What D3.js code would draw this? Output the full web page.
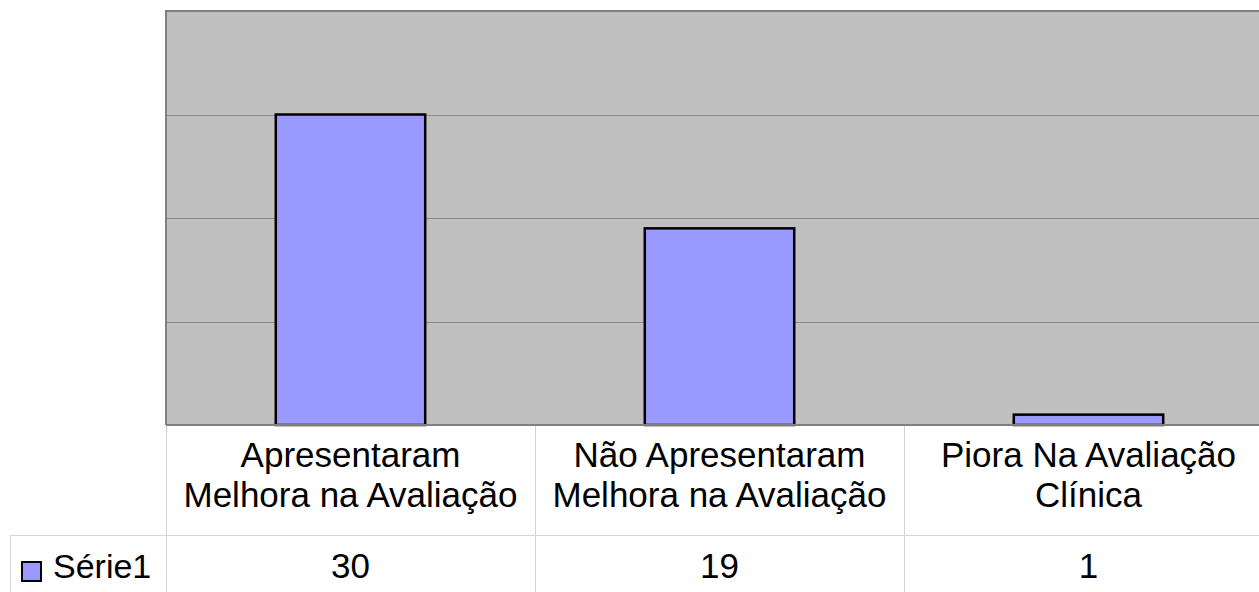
<!DOCTYPE html>
<html>
<head>
<meta charset="utf-8">
<script src="https://cdn.jsdelivr.net/npm/d3@7"></script>
<style>
  body { margin: 0; background: #fff; }
  text { font-family: "Liberation Sans", Arial, sans-serif; }
</style>
</head>
<body>
<div id="chart"></div>
<script>
// Chart data
var categories = [
    ["Apresentaram", "Melhora na Avaliação"],
    ["Não Apresentaram", "Melhora na Avaliação"],
    ["Piora Na Avaliação", "Clínica"]
];
var seriesName = "Série1";
var values = [30, 19, 1];
var gridValues = [10, 20, 30];

var width = 1259;
var height = 592;

var plotLeft = 166, plotRight = 1273, plotTop = 11, plotBottom = 425;
var rowHeight = 110;
var fontSize = 35;

var svg = d3.select("#chart")
    .append("svg")
    .attr("width", width)
    .attr("height", height);

var x = d3.scaleBand()
    .domain(d3.range(categories.length))
    .range([plotLeft, plotRight])
    .paddingInner(0.595)
    .paddingOuter(0.2975);

var y = d3.scaleLinear()
    .domain([0, 40])
    .range([plotBottom, plotTop]);

// plot background
svg.append("rect")
    .attr("x", plotLeft)
    .attr("y", plotTop)
    .attr("width", plotRight - plotLeft)
    .attr("height", plotBottom - plotTop)
    .style("fill", "#c0c0c0");

// gridlines
svg.selectAll("line.grid")
    .data(gridValues)
    .enter()
    .append("line")
    .attr("class", "grid")
    .attr("x1", plotLeft)
    .attr("x2", plotRight)
    .attr("y1", function(d) { return Math.round(y(d)) + 0.5; })
    .attr("y2", function(d) { return Math.round(y(d)) + 0.5; })
    .style("stroke", "#8a8a8a")
    .style("stroke-width", 1);

// border (top + left)
svg.append("path")
    .attr("d", "M" + plotLeft + "," + plotBottom + "V" + plotTop + "H" + plotRight)
    .style("fill", "none")
    .style("stroke", "#808080")
    .style("stroke-width", 2);

// bars
svg.selectAll("rect.bar")
    .data(values)
    .enter()
    .append("rect")
    .attr("class", "bar")
    .attr("x", function(d, i) { return x(i); })
    .attr("y", function(d) { return y(d); })
    .attr("width", x.bandwidth())
    .attr("height", function(d) { return plotBottom - y(d); })
    .style("fill", "#9999ff")
    .style("stroke", "#000")
    .style("stroke-width", 2.5);

// bottom axis line
svg.append("line")
    .attr("x1", plotLeft)
    .attr("x2", plotRight)
    .attr("y1", plotBottom)
    .attr("y2", plotBottom)
    .style("stroke", "#808080")
    .style("stroke-width", 2);

// data table
var step = x.step();
var colEdges = d3.range(categories.length + 1).map(function(i) { return plotLeft + i * step; });
var tableColor = "#d4d4d4";

svg.selectAll("line.vcol")
    .data(colEdges)
    .enter()
    .append("line")
    .attr("class", "vcol")
    .attr("x1", function(d) { return Math.round(d) + 0.5; })
    .attr("x2", function(d) { return Math.round(d) + 0.5; })
    .attr("y1", plotBottom + 1)
    .attr("y2", plotBottom + 2 * rowHeight)
    .style("stroke", tableColor);

svg.append("line")
    .attr("x1", 10)
    .attr("x2", plotRight)
    .attr("y1", plotBottom + rowHeight + 0.5)
    .attr("y2", plotBottom + rowHeight + 0.5)
    .style("stroke", tableColor);

svg.append("line")
    .attr("x1", 10.5)
    .attr("x2", 10.5)
    .attr("y1", plotBottom + rowHeight)
    .attr("y2", plotBottom + 2 * rowHeight)
    .style("stroke", tableColor);

// category labels
var catText = svg.selectAll("text.cat")
    .data(categories)
    .enter()
    .append("text")
    .attr("class", "cat")
    .attr("text-anchor", "middle")
    .style("font-size", fontSize + "px")
    .style("fill", "#000");

catText.selectAll("tspan")
    .data(function(d, i) { return d.map(function(t) { return { t: t, i: i }; }); })
    .enter()
    .append("tspan")
    .attr("x", function(d) { return x(d.i) + x.bandwidth() / 2; })
    .attr("y", function(d, j) { return 467 + j * 40; })
    .text(function(d) { return d.t; });

// value labels
svg.selectAll("text.val")
    .data(values)
    .enter()
    .append("text")
    .attr("class", "val")
    .attr("text-anchor", "middle")
    .attr("x", function(d, i) { return x(i) + x.bandwidth() / 2; })
    .attr("y", 578)
    .style("font-size", fontSize + "px")
    .text(function(d) { return d; });

// legend key
svg.append("rect")
    .attr("x", 22)
    .attr("y", 562)
    .attr("width", 19)
    .attr("height", 19)
    .style("fill", "#9999ff")
    .style("stroke", "#000")
    .style("stroke-width", 2);

svg.append("text")
    .attr("x", 53)
    .attr("y", 578)
    .style("font-size", "34px")
    .text(seriesName);
</script>
</body>
</html>
